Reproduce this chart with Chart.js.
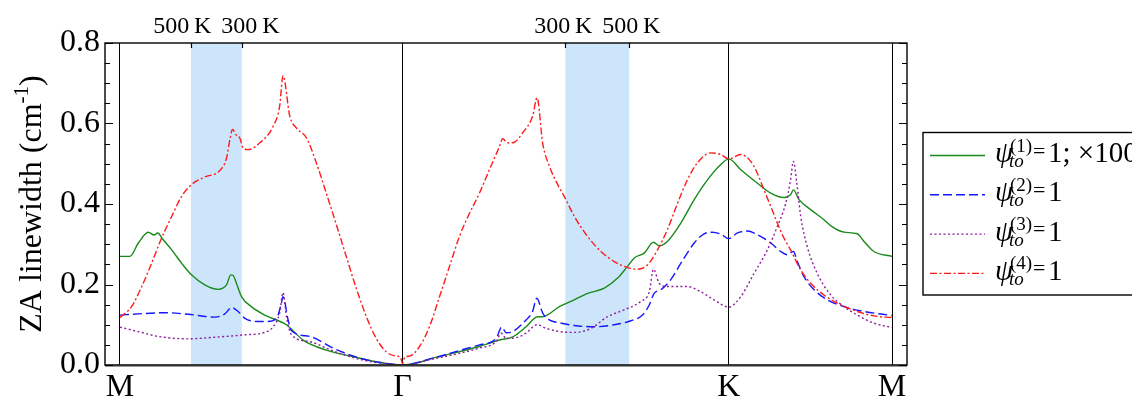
<!DOCTYPE html>
<html>
<head>
<meta charset="utf-8">
<script src="https://cdn.jsdelivr.net/npm/chart.js@4/dist/chart.umd.min.js"></script>
<style>
  html, body { margin: 0; padding: 0; background: #fff; }
</style>
</head>
<body>
<canvas id="za" width="1132" height="401"></canvas>
<script>
// path coordinate in units of |ΓM|:  M = 0, Γ = 1, K = 1 + 2/√3, M = 1 + √3
const symPoints = [0, 1, 2.1547, 2.7321]
const symLabels = ["M", "Γ", "K", "M"]

// shaded q-ranges and the temperatures at their edges
const bandRanges = [[0.251, 0.431], [1.576, 1.802]]
const bandEdgeLabels = [["500\u2009K", "300\u2009K"], ["300\u2009K", "500\u2009K"]]

const yTicks = [0, 0.2, 0.4, 0.6, 0.8]

// psi_to^(1) = 1, scaled x100
const psi1Q = [0, 0.035, 0.065, 0.100, 0.121, 0.133, 0.153, 0.183, 0.218, 0.253,
  0.300, 0.347, 0.377, 0.392, 0.400, 0.412, 0.430, 0.465, 0.512, 0.589,
  0.648, 0.730, 0.824, 0.907, 1.0, 1.05, 1.107, 1.201, 1.272, 1.343, 1.390,
  1.437, 1.478, 1.496, 1.555, 1.596, 1.655, 1.714, 1.761, 1.796, 1.820,
  1.855, 1.888, 1.908, 1.937, 1.985, 2.032, 2.079, 2.126, 2.1547, 2.197,
  2.255, 2.303, 2.350, 2.373, 2.383, 2.403, 2.444, 2.491, 2.521, 2.562,
  2.609, 2.633, 2.668, 2.7321]
const psi1W = [0.270, 0.270, 0.303, 0.330, 0.323, 0.328, 0.311, 0.286, 0.253, 0.224,
  0.199, 0.188, 0.199, 0.224, 0.223, 0.203, 0.170, 0.145, 0.124, 0.100,
  0.062, 0.037, 0.021, 0.008, 0, 0.005, 0.017, 0.033, 0.046, 0.062, 0.070,
  0.095, 0.120, 0.120, 0.145, 0.158, 0.178, 0.191, 0.216, 0.245, 0.266,
  0.278, 0.305, 0.296, 0.307, 0.353, 0.411, 0.460, 0.498, 0.512, 0.485,
  0.452, 0.427, 0.416, 0.423, 0.435, 0.411, 0.386, 0.361, 0.343, 0.330,
  0.326, 0.307, 0.282, 0.270]

// psi_to^(2) = 1
const psi2Q = [0, 0.065, 0.159, 0.241, 0.336, 0.371, 0.395, 0.418, 0.442, 0.495,
  0.518, 0.554, 0.571, 0.577, 0.595, 0.607, 0.671, 0.754, 0.848, 0.942, 1.0,
  1.107, 1.201, 1.272, 1.331, 1.351, 1.367, 1.390, 1.437, 1.460, 1.475,
  1.496, 1.519, 1.555, 1.608, 1.678, 1.749, 1.808, 1.849, 1.873, 1.890,
  1.914, 1.949, 1.985, 2.032, 2.067, 2.096, 2.126, 2.1547, 2.185, 2.220,
  2.255, 2.303, 2.338, 2.361, 2.383, 2.397, 2.420, 2.456, 2.503, 2.562,
  2.633, 2.7321]
const psi2W = [0.124, 0.127, 0.130, 0.126, 0.119, 0.127, 0.143, 0.133, 0.116, 0.108,
  0.108, 0.116, 0.153, 0.170, 0.112, 0.085, 0.071, 0.042, 0.017, 0.004, 0,
  0.017, 0.036, 0.050, 0.066, 0.094, 0.080, 0.083, 0.112, 0.133, 0.166,
  0.129, 0.112, 0.105, 0.098, 0.095, 0.100, 0.110, 0.124, 0.149, 0.178,
  0.187, 0.212, 0.253, 0.303, 0.326, 0.330, 0.325, 0.314, 0.328, 0.333,
  0.324, 0.303, 0.282, 0.274, 0.282, 0.257, 0.220, 0.187, 0.162, 0.145,
  0.133, 0.123]

// psi_to^(3) = 1
const psi3Q = [0, 0.065, 0.135, 0.241, 0.336, 0.442, 0.512, 0.542, 0.565, 0.577,
  0.589, 0.607, 0.671, 0.754, 0.848, 0.942, 1.0,
  1.107, 1.201, 1.272, 1.331, 1.349, 1.367, 1.402, 1.437, 1.475, 1.508,
  1.555, 1.608, 1.667, 1.725, 1.784, 1.843, 1.873, 1.888, 1.908, 1.937,
  2.008, 2.055, 2.102, 2.1547, 2.197, 2.244, 2.291, 2.326, 2.356, 2.373,
  2.383, 2.395, 2.409, 2.432, 2.467, 2.515, 2.562, 2.609, 2.668, 2.7321]
const psi3W = [0.094, 0.083, 0.071, 0.065, 0.069, 0.075, 0.081, 0.095, 0.129, 0.180,
  0.120, 0.075, 0.058, 0.035, 0.014, 0.003, 0,
  0.015, 0.029, 0.042, 0.058, 0.079, 0.066, 0.068, 0.079, 0.100, 0.091,
  0.083, 0.081, 0.091, 0.120, 0.137, 0.158, 0.182, 0.238, 0.203, 0.195,
  0.195, 0.182, 0.162, 0.144, 0.170, 0.228, 0.286, 0.344, 0.402, 0.460,
  0.506, 0.452, 0.369, 0.294, 0.228, 0.174, 0.145, 0.124, 0.104, 0.093]

// psi_to^(4) = 1
const psi4Q = [0, 0.041, 0.077, 0.112, 0.147, 0.183, 0.218, 0.253, 0.300, 0.353,
  0.377, 0.389, 0.398, 0.412, 0.424, 0.436, 0.453, 0.495, 0.542, 0.565,
  0.577, 0.601, 0.624, 0.660, 0.695, 0.730, 0.766, 0.801, 0.836, 0.872,
  0.907, 0.942, 0.978, 0.992, 1.0, 1.008,
  1.025, 1.060, 1.095, 1.131, 1.166, 1.201, 1.237, 1.272, 1.307, 1.343,
  1.354, 1.372, 1.390, 1.425, 1.460, 1.476, 1.496, 1.519, 1.555, 1.572,
  1.608, 1.655, 1.702, 1.749, 1.796, 1.831, 1.867, 1.902, 1.937, 1.973,
  2.008, 2.043, 2.091, 2.126, 2.1547, 2.197, 2.232, 2.255, 2.279, 2.303,
  2.326, 2.350, 2.373, 2.409, 2.444, 2.491, 2.538, 2.609, 2.668, 2.7321]
const psi4W = [0.118, 0.145, 0.195, 0.253, 0.315, 0.369, 0.419, 0.448, 0.467, 0.483,
  0.514, 0.560, 0.585, 0.571, 0.564, 0.539, 0.535, 0.552, 0.593, 0.643,
  0.719, 0.618, 0.589, 0.564, 0.502, 0.427, 0.348, 0.269, 0.191, 0.120,
  0.066, 0.033, 0.022, 0.020, 0.004, 0.020,
  0.022, 0.046, 0.095, 0.170, 0.245, 0.319, 0.377, 0.427, 0.485, 0.543,
  0.562, 0.552, 0.552, 0.577, 0.618, 0.664, 0.550, 0.495, 0.440, 0.419,
  0.369, 0.319, 0.282, 0.257, 0.242, 0.238, 0.249, 0.286, 0.336, 0.402,
  0.460, 0.502, 0.527, 0.523, 0.512, 0.523, 0.506, 0.477, 0.435, 0.394,
  0.353, 0.315, 0.286, 0.236, 0.203, 0.174, 0.154, 0.133, 0.122, 0.118]

const seriesTags = ["(1)", "(2)", "(3)", "(4)"]
const seriesNotes = ["1; \u00d7100", "1", "1", "1"]

const serif = "'Liberation Serif', 'Times New Roman', serif"

const styles = [
  { color: "#1a8a1a", dash: [] },
  { color: "#1515ff", dash: [9, 4] },
  { color: "#8e1e9e", dash: [2, 2.5] },
  { color: "#ff1a1a", dash: [7, 2.5, 2, 2.5] }
]

function points(q, w) {
  return q.map((v, i) => ({ x: v, y: w[i] }))
}

const seriesData = [points(psi1Q, psi1W), points(psi2Q, psi2W), points(psi3Q, psi3W), points(psi4Q, psi4W)]

const datasets = seriesData.map((d, i) => ({
  data: d,
  borderColor: styles[i].color,
  borderDash: styles[i].dash,
  borderWidth: 1.4,
  pointRadius: 0,
  fill: false,
  cubicInterpolationMode: "monotone",
  order: 3 - i
}))

// light-blue temperature windows behind the curves
const bandsPlugin = {
  id: "bands",
  beforeDraw(chart) {
    const { ctx, chartArea, scales } = chart
    ctx.save()
    ctx.fillStyle = "#cce5fb"
    bandRanges.forEach(([a, b]) => {
      const x0 = scales.x.getPixelForValue(a)
      const x1 = scales.x.getPixelForValue(b)
      ctx.fillRect(x0, chartArea.top, x1 - x0, chartArea.bottom - chartArea.top)
    })
    ctx.restore()
  }
}

// frame, inward ticks, band labels, y title, legend
const decorPlugin = {
  id: "decor",
  afterDraw(chart) {
    const { ctx, chartArea: ca, scales } = chart
    const xs = scales.x, ys = scales.y
    ctx.save()
    ctx.strokeStyle = "#000"
    ctx.lineWidth = 1.4
    ctx.strokeRect(ca.left, ca.top, ca.right - ca.left, ca.bottom - ca.top)
    ctx.strokeStyle = "#333"
    ctx.lineWidth = 2
    ctx.beginPath()
    ctx.moveTo(ca.left, ca.bottom + 0.5); ctx.lineTo(ca.right, ca.bottom + 0.5)
    ctx.stroke()
    ctx.strokeStyle = "#000"

    // y ticks every 0.05 on both sides
    ctx.lineWidth = 1.2
    ctx.beginPath()
    for (let k = 0; k <= 16; k++) {
      const y = Math.round(ys.getPixelForValue(k * 0.05)) + 0.5
      const len = k % 4 === 0 ? 8 : 5
      ctx.moveTo(ca.left, y); ctx.lineTo(ca.left + len, y)
      ctx.moveTo(ca.right, y); ctx.lineTo(ca.right - len, y)
    }
    // top ticks at band edges
    bandRanges.forEach(r => r.forEach(v => {
      const x = Math.round(xs.getPixelForValue(v)) + 0.5
      ctx.moveTo(x, ca.top); ctx.lineTo(x, ca.top + 5)
    }))
    ctx.stroke()

    // temperature labels above each band edge, pushed apart when the band is narrow
    ctx.fillStyle = "#000"
    ctx.font = "24px " + serif
    ctx.textAlign = "center"
    ctx.textBaseline = "alphabetic"
    bandRanges.forEach(([a, b], i) => {
      const x0 = xs.getPixelForValue(a)
      const x1 = xs.getPixelForValue(b)
      const w = Math.max(ctx.measureText(bandEdgeLabels[i][0]).width, ctx.measureText(bandEdgeLabels[i][1]).width)
      const shift = Math.max(0, (w + 10 - (x1 - x0)) / 2)
      ctx.fillText(bandEdgeLabels[i][0], x0 - shift, ca.top - 10)
      ctx.fillText(bandEdgeLabels[i][1], x1 + shift, ca.top - 10)
    })

    // y axis title with superscript
    ctx.save()
    ctx.translate(41, (ca.top + ca.bottom) / 2)
    ctx.rotate(-Math.PI / 2)
    ctx.textAlign = "left"
    const big = "32px " + serif, small = "21px " + serif
    ctx.font = big
    const t1 = "ZA linewidth (cm", t3 = ")"
    const w1 = ctx.measureText(t1).width, w3 = ctx.measureText(t3).width
    ctx.font = small
    const w2 = ctx.measureText("-1").width
    let x = -(w1 + w2 + w3) / 2
    ctx.font = big
    ctx.fillText(t1, x, 0)
    ctx.font = small
    ctx.fillText("-1", x + w1, -13)
    ctx.font = big
    ctx.fillText(t3, x + w1 + w2, 0)
    ctx.restore()

    // legend box
    const lx = ca.right + 16
    ctx.lineWidth = 1.4
    ctx.strokeRect(lx, 132.5, 260, 162.5)
    seriesTags.forEach((tag, i) => {
      const y = 155.5 + i * 39.3
      ctx.save()
      ctx.strokeStyle = styles[i].color
      ctx.lineWidth = 1.4
      ctx.setLineDash(styles[i].dash)
      ctx.beginPath()
      ctx.moveTo(lx + 7, y); ctx.lineTo(lx + 62, y)
      ctx.stroke()
      ctx.restore()
      ctx.textAlign = "left"
      ctx.font = "italic 29px " + serif
      ctx.fillText("\u03c8", lx + 72, y + 6.5)
      ctx.font = "19px " + serif
      ctx.fillText(tag, lx + 87, y - 4)
      ctx.font = "italic 19px " + serif
      ctx.fillText("to", lx + 86, y + 11.5)
      ctx.font = "22px " + serif
      ctx.fillText("=", lx + 110, y + 2)
      ctx.font = "29px " + serif
      ctx.fillText(seriesNotes[i], lx + 125, y + 6.5)
    })
    ctx.restore()
  }
}

new Chart(document.getElementById("za"), {
  type: "line",
  data: { datasets: datasets },
  plugins: [bandsPlugin, decorPlugin],
  options: {
    responsive: false,
    animation: false,
    layout: { padding: { top: 43, right: 225, left: 0, bottom: 0 } },
    plugins: { legend: { display: false }, tooltip: { enabled: false } },
    scales: {
      x: {
        type: "linear",
        min: -0.053,
        max: 2.785,
        afterBuildTicks: s => { s.ticks = symPoints.map(v => ({ value: v })) },
        afterFit: s => { s.height = 36 },
        ticks: {
          autoSkip: false,
          maxRotation: 0,
          padding: 3,
          color: "#000",
          font: { family: serif, size: 32 },
          callback: (v, i) => symLabels[i]
        },
        grid: { color: "#000", lineWidth: 1, drawTicks: false },
        border: { display: false }
      },
      y: {
        min: 0,
        max: 0.8,
        afterBuildTicks: s => { s.ticks = yTicks.map(v => ({ value: v })) },
        afterFit: s => { s.width = 105 },
        ticks: {
          padding: 5,
          color: "#000",
          font: { family: serif, size: 32 },
          callback: v => v.toFixed(1)
        },
        grid: { display: false, drawTicks: false },
        border: { display: false }
      }
    }
  }
})
</script>
</body>
</html>
